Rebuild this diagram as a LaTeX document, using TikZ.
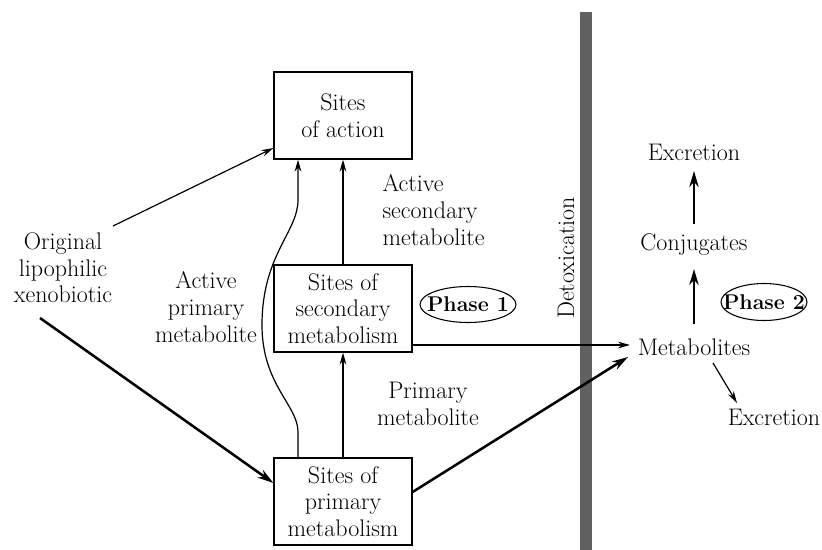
\documentclass[tikz,border=0pt]{standalone}
\usetikzlibrary{arrows.meta,calc,shapes.geometric}
\begin{document}
\begin{tikzpicture}[x=0.75pt,y=-0.75pt,
  every node/.style={font=\fontsize{18}{20}\selectfont},
  sitebox/.style={draw,line width=0.9pt,minimum width=138*0.75pt,minimum height=87*0.75pt,align=center,inner sep=0pt},
  lbl/.style={align=center,inner sep=1pt},
  thin/.style={line width=0.9pt,-{Stealth[length=9pt,width=5pt]}},
  thick/.style={line width=1.9pt,-{Stealth[length=12pt,width=7pt]}},
  phase/.style={inner sep=0pt,font=\fontsize{16}{20}\selectfont\bfseries}]
\useasboundingbox (0,0) rectangle (822,550);
\fill[white] (0,0) rectangle (822,550);
% bar
\fill[black!62] (580,12) rectangle (592,550);
\node[rotate=90,inner sep=0pt] (detox) at (566,258) {Detoxication};
% boxes
\node[sitebox] (act) at (343,115.5) {Sites\\of action};
\node[sitebox] (sec) at (343,308.5) {Sites of\\secondary\\metabolism};
\node[sitebox] (pri) at (343,501.5) {Sites of\\primary\\metabolism};
% labels
\node[lbl] (orig) at (63,268) {Original\\lipophilic\\xenobiotic};
\node[lbl] (apm) at (206,307) {Active\\primary\\metabolite};
\node[lbl,align=left,anchor=west] (asm) at (381,210) {Active\\secondary\\metabolite};
\node[lbl] (pm) at (428,404) {Primary\\metabolite};
\node[phase] (ph1) at (468,304.5) {Phase 1};
\draw[line width=0.8pt] (ph1.center) ellipse [x radius=48, y radius=18];
\node[phase] (ph2) at (764,302) {Phase 2};
\draw[line width=0.8pt] (ph2.center) ellipse [x radius=43, y radius=18.5];
\node[inner sep=2pt] (met) at (694,347) {Metabolites};
\node[inner sep=2pt] (conj) at (694,245) {Conjugates};
\node[inner sep=2pt] (exc1) at (694,152) {Excretion};
\node[inner sep=2pt] (exc2) at (774,417) {Excretion};
% connectors
\coordinate (o1) at (113,226);
\coordinate (o2) at (40,318);
\draw[thin] (o1) -- (act.west |- 0,148);
\draw[thick] (o2) -- (pri.west |- 0,483);
\draw[thin] (sec.north) -- (act.south);
\draw[thin] (pri.north) -- (sec.south);
\draw[line width=0.9pt,-{Stealth[length=9pt,width=5pt]}]
  ($(pri.north)+(-45,0)$) -- (298,432)
  .. controls (298,405) and (262,385) .. (262,325)
  .. controls (262,255) and (298,232) .. (298,200)
  -- ($(act.south)+(-45,0)$);
\draw[thin] (sec.east |- 0,345) -- (630,345);
\draw[thick] (pri.east |- 0,492) -- (628,357);
\draw[thick] (694,324) -- (694,269);
\draw[thick] (694,224) -- (694,171);
\draw[thin] (713,363) -- (737,403);
\end{tikzpicture}
\end{document}
